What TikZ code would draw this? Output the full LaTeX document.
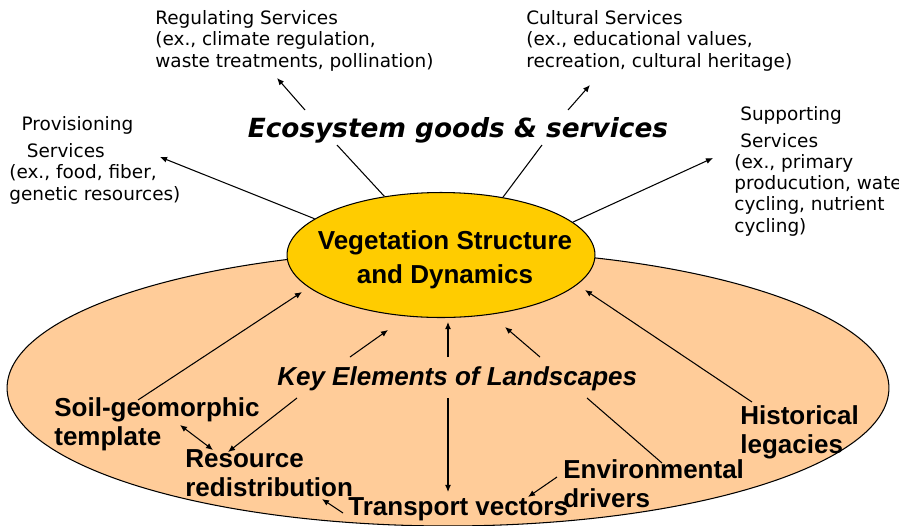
\documentclass[tikz,border=0pt]{standalone}
\usepackage{fontspec}
\setmainfont{Liberation Sans}
\newfontfamily\handfont{DejaVu Sans}
\usetikzlibrary{shapes.geometric,arrows.meta}
\definecolor{vegyellow}{HTML}{FFCC00}
\definecolor{landpeach}{HTML}{FFCC99}

\tikzset{
  service/.style={font=\handfont\fontsize{10.5}{12}\selectfont,align=left,inner sep=0pt,anchor=base west},
  element/.style={font=\bfseries\fontsize{14.8}{16.4}\selectfont,align=left,inner sep=0pt,anchor=base west},
  link/.style={line width=0.6pt,-{Latex[length=4pt,width=3.4pt]}},
  twoway/.style={line width=0.6pt,{Latex[length=4pt,width=3.4pt]}-{Latex[length=4pt,width=3.4pt]}},
  plain/.style={line width=0.6pt}
}

\begin{document}
\begin{tikzpicture}[x=0.02cm,y=-0.02cm]
    \useasboundingbox (0,0) rectangle (899,525);
    \clip (0,0) rectangle (899,525);
    % Landscape ellipse
    \draw[fill=landpeach,line width=0.6pt] (448,388) ellipse [x radius=8.82cm, y radius=2.76cm];
    % Vegetation ellipse
    \node[ellipse,draw,fill=vegyellow,line width=0.6pt,inner sep=0pt,minimum width=6.16cm,minimum height=2.5cm] (veg) at (441,255) {};
    \node[element,font=\bfseries\fontsize{14.8}{19}\selectfont,align=center,anchor=base] (vegtext) at (445,283) {Vegetation Structure\\and Dynamics};

    % Services (anchored at the baseline of the last line)
    \node[font=\handfont\bfseries\itshape\fontsize{15}{18}\selectfont,anchor=base,inner sep=0pt] (eco) at (458,137) {Ecosystem goods \& services};
    \node[service] (reg) at (155,67) {Regulating Services\\(ex., climate regulation,\\waste treatments, pollination)};
    \node[service] (cult) at (526,67) {Cultural Services\\(ex., educational values,\\recreation, cultural heritage)};
    \node[service] (prov) at (9,200) {\hspace*{7pt}Provisioning\\[3.6pt]\hspace*{10pt}Services\\(ex., food, fiber,\\genetic resources)};
    \node[service] (supp) at (734,232) {\hspace*{3.4pt}Supporting\\[3.6pt]\hspace*{3.4pt}Services\\(ex., primary\\producution, water\\cycling, nutrient\\cycling)};

    % Landscape elements
    \node[element,font=\bfseries\itshape\fontsize{14.8}{16.4}\selectfont] (key) at (277,385) {Key Elements of Landscapes};
    \node[element] (soil) at (54,445) {Soil-geomorphic\\template};
    \node[element] (res) at (185,496) {Resource\\redistribution};
    \node[element] (trans) at (348,515) {Transport vectors};
    \node[element] (env) at (563,507) {Environmental\\drivers};
    \node[element] (hist) at (740,453) {Historical\\legacies};

    % Arrow ends
    \foreach \name/\px/\py in {regfoot/305/110, regtip/277/78, cultfoot/568/110, culttip/590/85,
        ecoleft/337/145, ecoright/542/145, provtip/160/157, supptip/713/158,
        soilfoot/138/400, soiltip/302/292, histfoot/752/402, histtip/585/290,
        keyfootl/350/357, keytipl/388/330, keyfootm/448/357, keytipm/448/322,
        keyfootr/540/357, keytipr/505/327, keydownl/297/398, restip/228/452,
        soilres/180/425, ressoil/213/450, keydownm/448/398, transtip/448/492,
        envfoot/557/477, envtip/528/497, keydownr/587/398, envtop/662/463,
        transfoot/343/513, transres/322/499}
        \coordinate (\name) at (\px,\py);

    % Services arrows
    \draw[plain] (veg.134) -- (ecoleft);
    \draw[plain] (veg.43.5) -- (ecoright);
    \draw[link] (regfoot) -- (regtip);
    \draw[link] (cultfoot) -- (culttip);
    \draw[link] (veg.164) -- (provtip);
    \draw[link] (veg.14) -- (supptip);

    % Landscape arrows
    \draw[link] (soilfoot) -- (soiltip);
    \draw[link] (histfoot) -- (histtip);
    \draw[link] (keyfootl) -- (keytipl);
    \draw[link] (keyfootm) -- (keytipm);
    \draw[link] (keyfootr) -- (keytipr);
    \draw[link] (keydownl) -- (restip);
    \draw[twoway] (soilres) -- (ressoil);
    \draw[link] (keydownm) -- (transtip);
    \draw[link] (envfoot) -- (envtip);
    \draw[plain] (keydownr) -- (envtop);
    \draw[link] (transfoot) -- (transres);
\end{tikzpicture}
\end{document}
